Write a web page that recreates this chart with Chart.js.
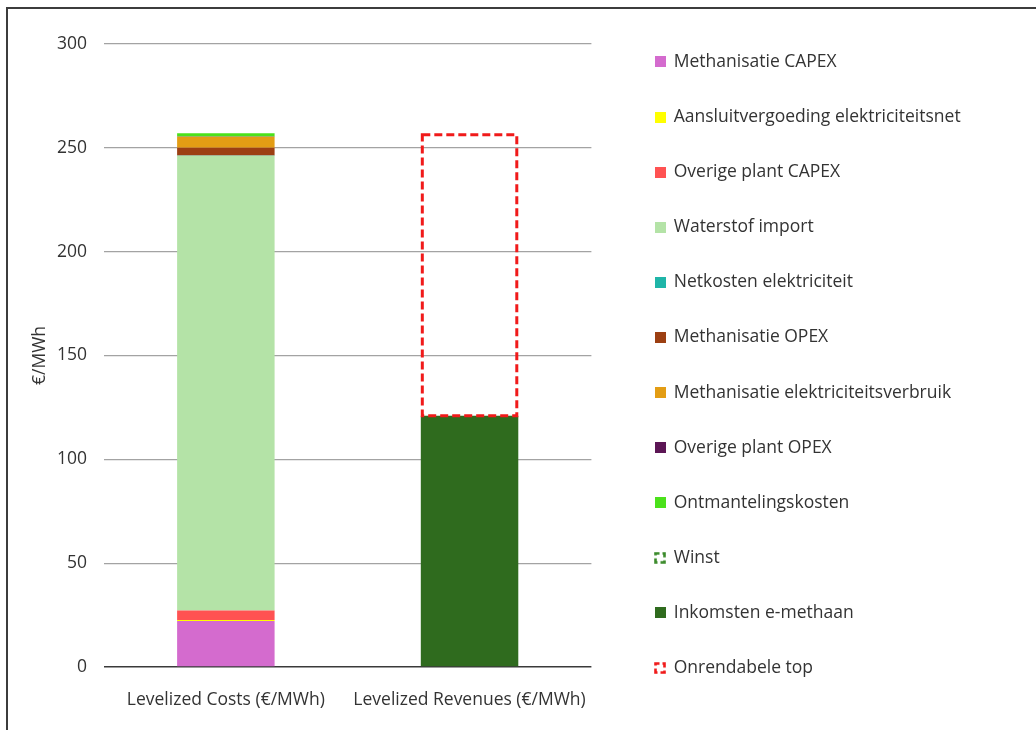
<!DOCTYPE html>
<html>
<head>
<meta charset="utf-8">
<script src="https://cdn.jsdelivr.net/npm/chart.js@4/dist/chart.umd.min.js"></script>
<style>
  html, body { margin: 0; padding: 0; background: #ffffff; overflow: hidden; }
  #wrap { position: relative; width: 1036px; height: 730px; }
  #chart { position: absolute; left: 0; top: 0; }
  #frame {
    position: absolute; left: 6px; top: 7px; width: 1100px; height: 900px;
    border: 2px solid #3c3c3c; pointer-events: none;
  }
</style>
</head>
<body>
<div id="wrap">
  <canvas id="chart" width="1036" height="730"></canvas>
  <div id="frame"></div>
</div>
<script>
// Categories on the x axis
const categories = ['Levelized Costs (€/MWh)', 'Levelized Revenues (€/MWh)'];

// Cost components (€/MWh), stacked bottom to top
const methanisatieCapex      = [22.2, null];
const aansluitvergoeding     = [0.4, null];
const overigePlantCapex      = [4.6, null];
const waterstofImport        = [219.0, null];
const netkostenElektriciteit = [0.1, null];
const methanisatieOpex       = [3.7, null];
const methanisatieElektr     = [5.3, null];
const overigePlantOpex       = [0.1, null];
const ontmantelingskosten    = [1.6, null];

// Revenue side (€/MWh)
const winst                  = [null, 0];
const inkomstenEMethaan      = [null, 121];
const onrendabeleTop         = [null, 136];

// Value axis ticks
const yTicks = [0, 50, 100, 150, 200, 250, 300];

const FONT = "'Open Sans', 'DejaVu Sans', sans-serif";
const FONT_SIZE = 17.5;
const TEXT = '#333333';

// Small square icons used as legend markers
function solidIcon(color) {
  const c = document.createElement('canvas');
  c.width = 11; c.height = 11;
  const g = c.getContext('2d');
  g.fillStyle = color;
  g.fillRect(0, 0, 11, 11);
  return c;
}
function dashedIcon(color) {
  const c = document.createElement('canvas');
  c.width = 12; c.height = 12;
  const g = c.getContext('2d');
  g.strokeStyle = color;
  g.lineWidth = 2.6;
  g.setLineDash([6, 3]);
  g.lineDashOffset = 2;
  g.strokeRect(1.5, 1.5, 9, 9);
  return c;
}

const series = [
  { label: 'Methanisatie CAPEX', data: methanisatieCapex, color: '#d46bce' },
  { label: 'Aansluitvergoeding elektriciteitsnet', data: aansluitvergoeding, color: '#ffff00' },
  { label: 'Overige plant CAPEX', data: overigePlantCapex, color: '#ff5252' },
  { label: 'Waterstof import', data: waterstofImport, color: '#b4e3a7' },
  { label: 'Netkosten elektriciteit', data: netkostenElektriciteit, color: '#1fb5a8' },
  { label: 'Methanisatie OPEX', data: methanisatieOpex, color: '#9c3f12' },
  { label: 'Methanisatie elektriciteitsverbruik', data: methanisatieElektr, color: '#e39d14' },
  { label: 'Overige plant OPEX', data: overigePlantOpex, color: '#5c1655' },
  { label: 'Ontmantelingskosten', data: ontmantelingskosten, color: '#4be11b' },
  { label: 'Winst', data: winst, color: '#3a8a2a', dashed: true },
  { label: 'Inkomsten e-methaan', data: inkomstenEMethaan, color: '#2f6b1e' },
  { label: 'Onrendabele top', data: onrendabeleTop, color: '#f01a1a', dashed: true }
];

const legendIcons = series.map(s => s.dashed ? dashedIcon(s.color) : solidIcon(s.color));

const datasets = series.map(s => ({
  label: s.label,
  data: s.data,
  backgroundColor: s.dashed ? 'rgba(0,0,0,0)' : s.color,
  borderWidth: 0,
  stack: 'total',
  categoryPercentage: 1.0,
  barPercentage: 0.4,
  dashOutline: s.dashed ? { color: s.color, width: 3, dash: [8, 4] } : null
}));

// Dashed rectangle around bars whose dataset asks for it
const dashedOutlinePlugin = {
  id: 'dashedOutline',
  afterDatasetsDraw(chart) {
    const ctx = chart.ctx;
    chart.data.datasets.forEach((ds, i) => {
      if (!ds.dashOutline) return;
      const meta = chart.getDatasetMeta(i);
      if (meta.hidden) return;
      meta.data.forEach((el, j) => {
        const v = ds.data[j];
        if (v === null || v === undefined || v === 0) return;
        const p = el.getProps(['x', 'y', 'base', 'width'], true);
        const lw = ds.dashOutline.width;
        const left = p.x - p.width / 2 + lw / 2;
        const top = Math.min(p.y, p.base) + lw / 2;
        const w = p.width - lw;
        const h = Math.abs(p.base - p.y) - lw / 2;
        ctx.save();
        ctx.strokeStyle = ds.dashOutline.color;
        ctx.lineWidth = lw;
        ctx.setLineDash(ds.dashOutline.dash);
        ctx.lineJoin = 'miter';
        ctx.strokeRect(left, top, w, h);
        ctx.restore();
      });
    });
  }
};

// Let the legend box run to the right edge so long labels are not clipped
const legendSpanPlugin = {
  id: 'legendSpan',
  afterLayout(chart) {
    const lg = chart.legend;
    if (!lg) return;
    lg.right = chart.width;
    lg.width = lg.right - lg.left;
  }
};

new Chart(document.getElementById('chart'), {
  type: 'bar',
  data: { labels: categories, datasets },
  plugins: [dashedOutlinePlugin, legendSpanPlugin],
  options: {
    responsive: false,
    animation: false,
    layout: { padding: { top: 15.6, right: 318.6, bottom: 0, left: 0 } },
    plugins: {
      title: {
        display: true,
        text: '',
        fullSize: false,
        padding: { top: 18.4, bottom: 0 },
        font: { size: 10, lineHeight: 1 }
      },
      tooltip: { enabled: false },
      legend: {
        position: 'right',
        align: 'start',
        maxWidth: 100,
        labels: {
          usePointStyle: true,
          boxWidth: 10,
          padding: 37.6,
          color: TEXT,
          font: { family: FONT, size: FONT_SIZE },
          generateLabels(chart) {
            const items = Chart.defaults.plugins.legend.labels.generateLabels(chart);
            items.forEach(it => { it.pointStyle = legendIcons[it.datasetIndex]; });
            return items;
          }
        }
      }
    },
    scales: {
      x: {
        stacked: true,
        grid: { display: false },
        border: { display: false },
        ticks: { color: TEXT, font: { family: FONT, size: FONT_SIZE }, padding: 14.5 },
        afterFit(scale) { scale.height = 63; }
      },
      y: {
        stacked: true,
        min: 0,
        max: 300,
        afterBuildTicks(scale) { scale.ticks = yTicks.map(v => ({ value: v })); },
        grid: {
          drawTicks: false,
          color: ctx => ctx.tick && ctx.tick.value === 0 ? '#3a3a3a' : '#a3a3a3',
          lineWidth: ctx => ctx.tick && ctx.tick.value === 0 ? 1.5 : 1.2
        },
        border: { display: false },
        ticks: { color: TEXT, font: { family: FONT, size: FONT_SIZE }, padding: 17 },
        title: {
          display: true,
          text: '€/MWh',
          color: TEXT,
          font: { family: FONT, size: FONT_SIZE },
          padding: { top: 29.5, bottom: 0 }
        },
        afterFit(scale) { scale.width = 104; }
      },
      gap: {
        position: 'right',
        display: true,
        grid: { display: false },
        border: { display: false },
        ticks: { display: false },
        afterFit(scale) { scale.width = 26; }
      }
    }
  }
});
</script>
</body>
</html>
